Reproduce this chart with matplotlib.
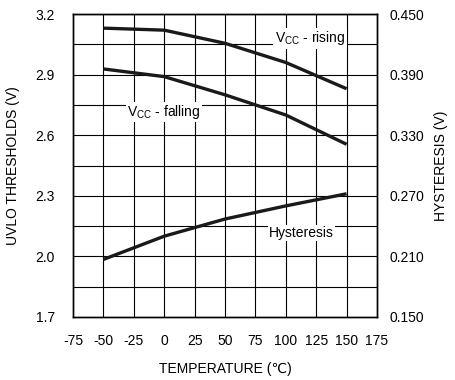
import numpy as np
import matplotlib.pyplot as plt

plt.rcParams['font.family'] = ['Liberation Sans', 'DejaVu Sans']
plt.rcParams['axes.unicode_minus'] = False

# 数据
temp = [-50, 0, 50, 100, 150]
vcc_rising = [3.13, 3.12, 3.055, 2.96, 2.83]
vcc_falling = [2.928, 2.89, 2.80, 2.70, 2.555]
hysteresis = [0.207, 0.230, 0.247, 0.260, 0.272]

x_ticks = [-75, -50, -25, 0, 25, 50, 75, 100, 125, 150, 175]
left_ticks = [1.7, 2.0, 2.3, 2.6, 2.9, 3.2]
right_ticks = [0.150, 0.210, 0.270, 0.330, 0.390, 0.450]

fig = plt.figure(figsize=(4.55, 3.8), dpi=100)
ax = fig.add_axes([73 / 455, 1 - 317 / 380, 304 / 455, 303 / 380])
ax2 = ax.twinx()

# 网格
for t in x_ticks[1:-1]:
    ax.axvline(t, color='black', lw=0.8, zorder=0)
for v in np.arange(1.85, 3.2, 0.15):
    ax.axhline(v, color='black', lw=0.8, zorder=0)

ax.plot(temp, vcc_rising, color='#1a1a1a', lw=2.4, solid_capstyle='butt')
ax.plot(temp, vcc_falling, color='#1a1a1a', lw=2.4, solid_capstyle='butt')
ax2.plot(temp, hysteresis, color='#1a1a1a', lw=2.4, solid_capstyle='butt')

fs = 10
ax.set_xlim(-75, 175)
ax.set_ylim(1.7, 3.2)
ax2.set_ylim(0.150, 0.450)
ax.set_xticks(x_ticks)
ax.set_yticks(left_ticks)
ax.set_yticklabels(['%.1f' % v for v in left_ticks])
ax2.set_yticks(right_ticks)
ax2.set_yticklabels(['%.3f' % v for v in right_ticks])
ax.tick_params(axis='x', length=0, labelsize=fs, pad=12)
ax.tick_params(axis='y', length=0, labelsize=fs, pad=13)
ax2.tick_params(length=0, labelsize=fs, pad=9)
for sp in list(ax.spines.values()) + list(ax2.spines.values()):
    sp.set_linewidth(1.0)

ax.set_xlabel('TEMPERATURE (℃)', fontsize=fs, labelpad=10)
ax.set_ylabel('UVLO THRESHOLDS (V)', fontsize=fs, labelpad=11)
ax2.set_ylabel('HYSTERESIS (V)', fontsize=fs, labelpad=7)

box = dict(facecolor='white', edgecolor='none', pad=1)
ax.text(120, 3.08, r'V$_{\mathregular{CC}}$ - rising', fontsize=fs, ha='center', va='center', bbox=box)
ax.text(0, 2.715, r'V$_{\mathregular{CC}}$ - falling', fontsize=fs, ha='center', va='center', bbox=box)
ax.text(113, 2.116, 'Hysteresis', fontsize=fs, ha='center', va='center', bbox=box)

plt.savefig('out.png', dpi=100)
